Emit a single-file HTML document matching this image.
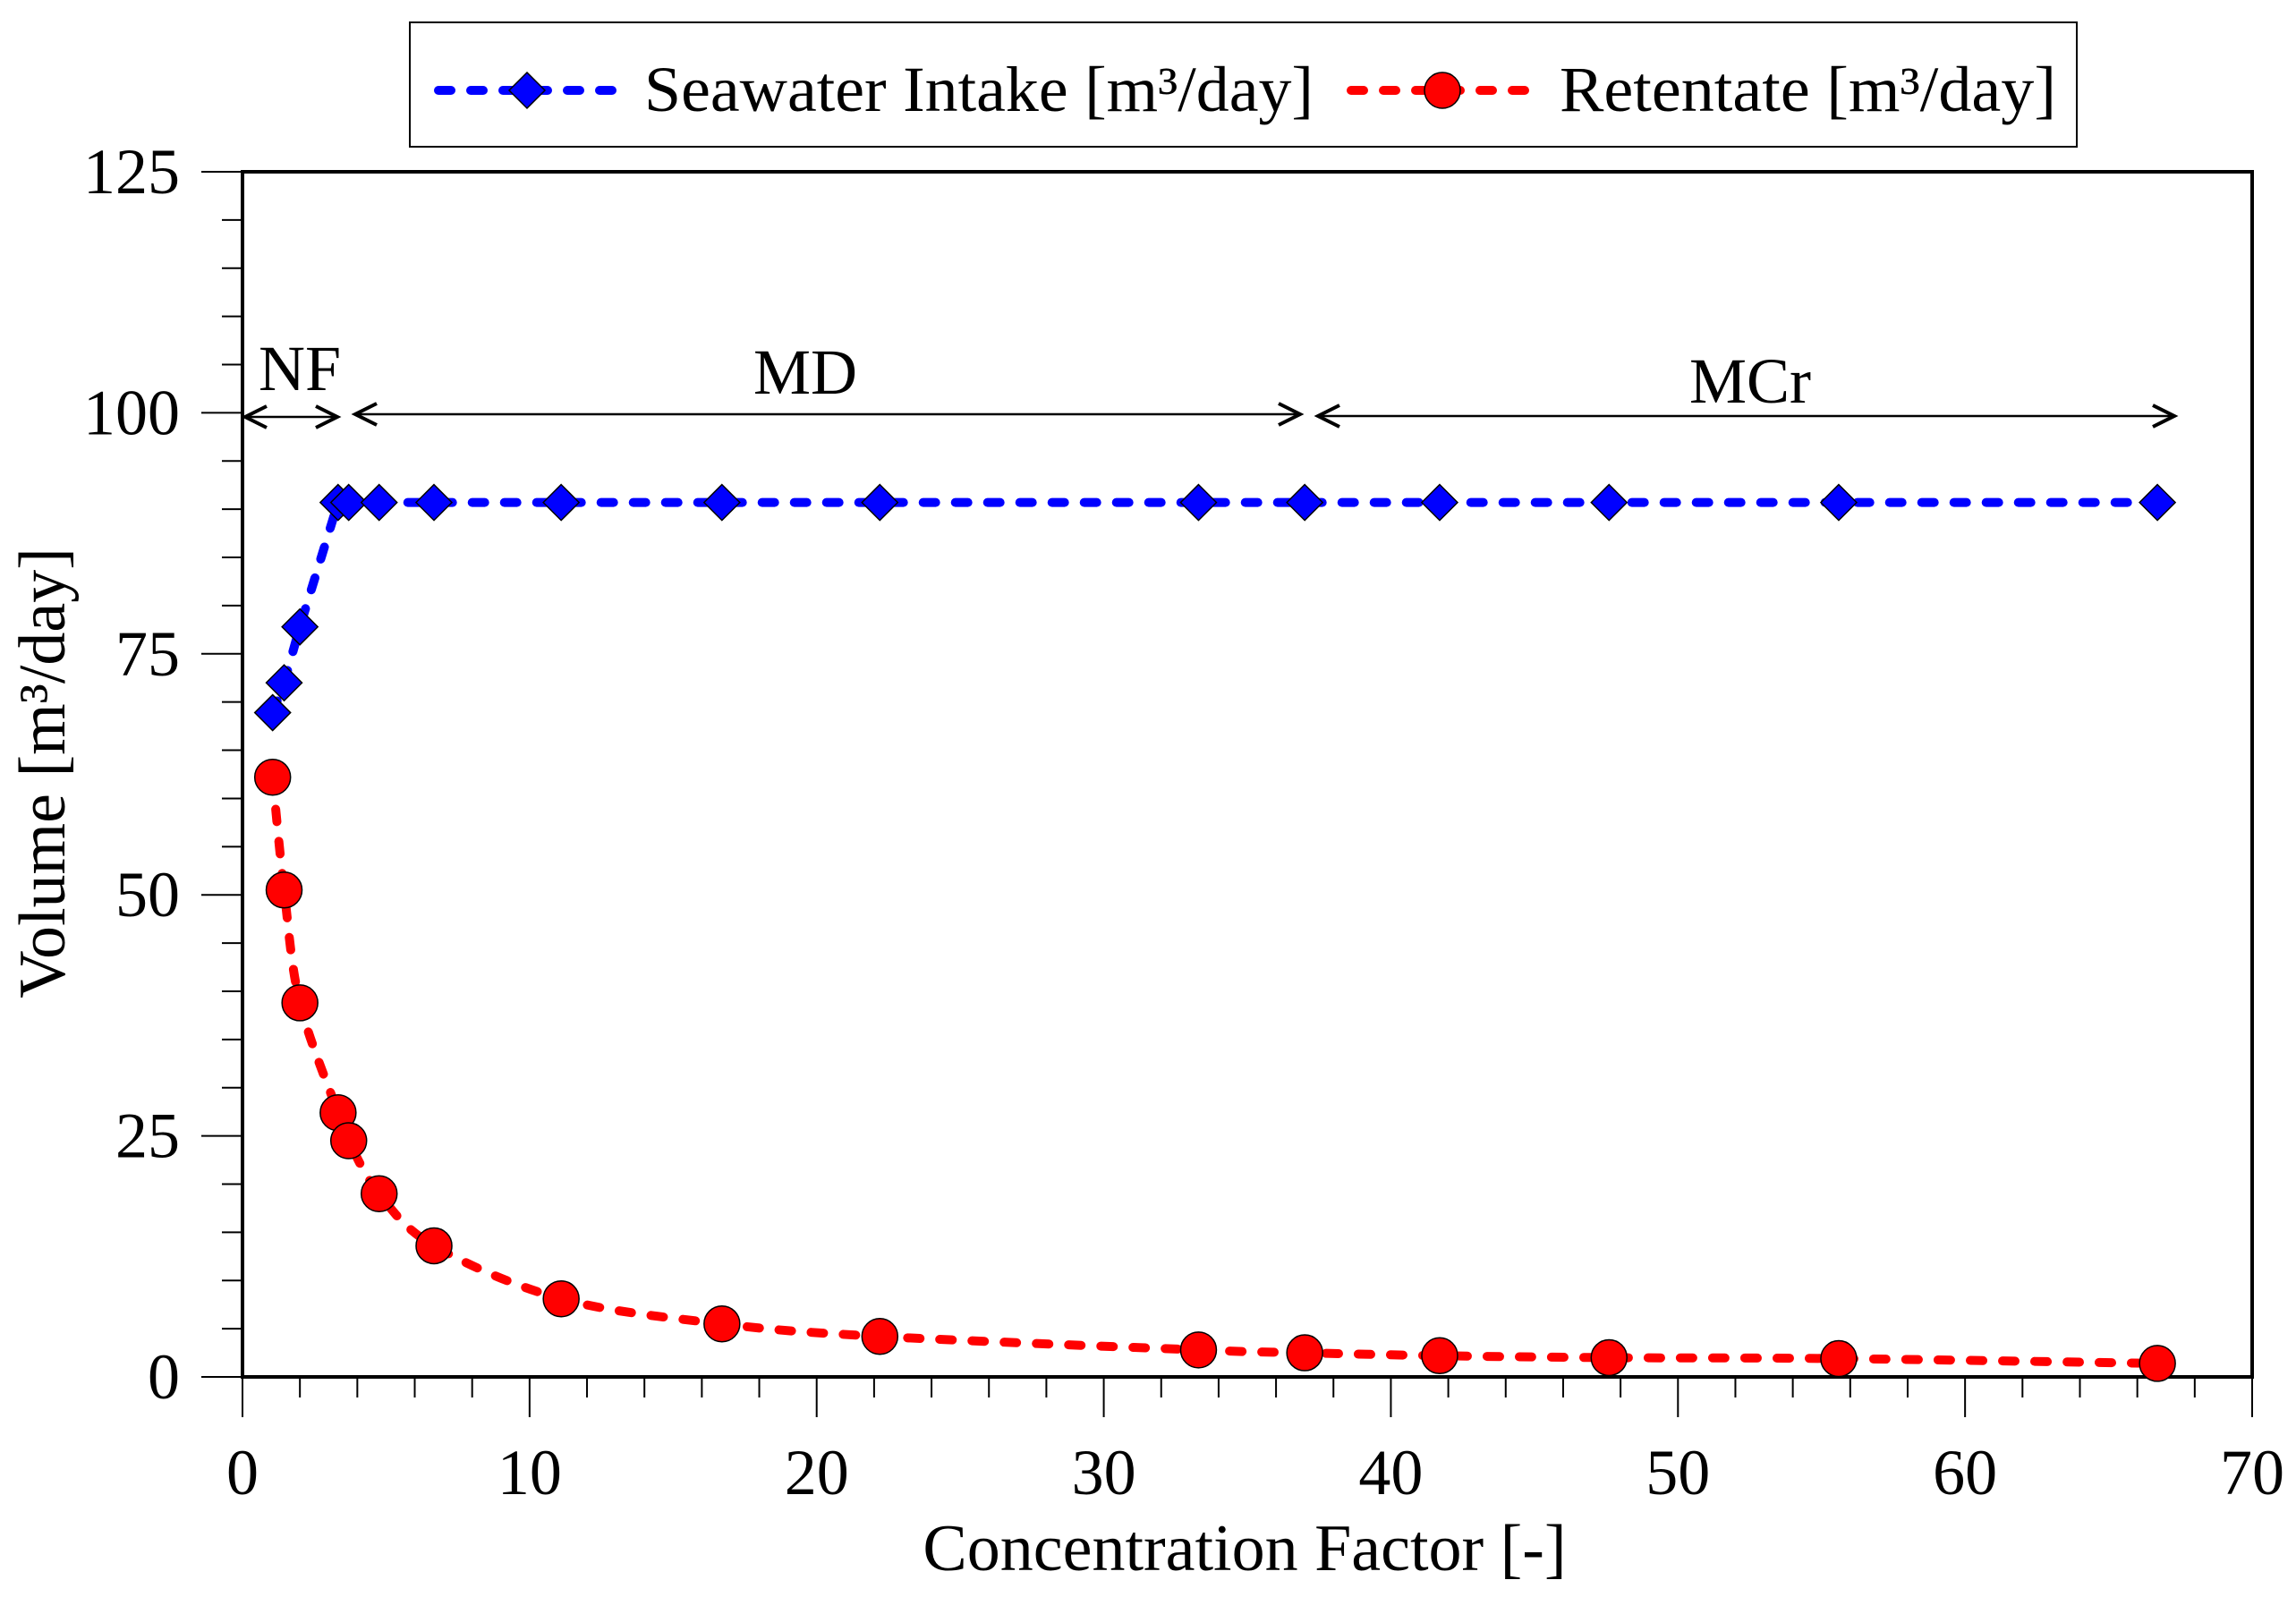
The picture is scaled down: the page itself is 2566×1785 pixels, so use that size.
<!DOCTYPE html>
<html><head><meta charset="utf-8"><style>
html,body{margin:0;padding:0;background:#fff}
svg{display:block}
text{font-family:"Liberation Serif",serif;fill:#000}
</style></head><body>
<svg id="chart" width="2566" height="1785" viewBox="0 0 2566 1785" xmlns="http://www.w3.org/2000/svg">
<g id="axes"></g>
<g id="series"></g>
<g id="annot"></g>
<g id="legend">
<rect x="458" y="25" width="1863" height="139" fill="#fff" stroke="#000" stroke-width="2"/>
<line x1="490" y1="101" x2="704" y2="101" stroke="#0000ff" stroke-width="10" stroke-dasharray="14,22" stroke-linecap="round"/>
<polygon points="589,81 609,101 589,121 569,101" fill="#0000ff" stroke="#000" stroke-width="1.5"/>
<text x="720" y="124" font-size="72" textLength="748" lengthAdjust="spacingAndGlyphs">Seawater Intake [m³/day]</text>
<line x1="1510" y1="101" x2="1718" y2="101" stroke="#ff0000" stroke-width="10" stroke-dasharray="14,22" stroke-linecap="round"/>
<circle cx="1612" cy="101" r="20" fill="#ff0000" stroke="#000" stroke-width="1.5"/>
<text x="1743" y="124" font-size="72" textLength="555" lengthAdjust="spacingAndGlyphs">Retentate [m³/day]</text>
</g>
</svg>
<script>
const cf = [1.05,1.45,2.0,3.33,3.7,4.76,6.67,11.1,16.7,22.2,33.3,37.0,41.7,47.6,55.6,66.7];
const intake = [68.9,72.0,77.8,90.7,90.7,90.7,90.7,90.7,90.7,90.7,90.7,90.7,90.7,90.7,90.7,90.7];
const retentate = [62.2,50.5,38.8,27.4,24.5,19.0,13.6,8.1,5.5,4.2,2.8,2.5,2.2,2.0,1.9,1.4];
const xTicks = [0,10,20,30,40,50,60,70];
const yTicks = [0,25,50,75,100,125];

const NS="http://www.w3.org/2000/svg";
const X0=271,X1=2517,Y0=1539,Y1=192;
const xs=v=>X0+(v/70)*(X1-X0);
const ys=v=>Y0-(v/125)*(Y0-Y1);
function mk(tag,parent,attrs){const e=document.createElementNS(NS,tag);for(const k in attrs)e.setAttribute(k,attrs[k]);parent.appendChild(e);return e;}
const axes=document.getElementById('axes'),series=document.getElementById('series'),annot=document.getElementById('annot');

let f=mk('rect',axes,{x:X0,y:Y1,width:X1-X0,height:Y0-Y1,fill:'none',stroke:'#000','stroke-width':4});


for(let v=0;v<=70;v+=2){const maj=v%10===0;
 const t=mk('line',axes,{x1:xs(v),x2:xs(v),y1:Y0,y2:Y0+(maj?45:23),stroke:'#000','stroke-width':2});
 
 }
for(let v=0;v<=125;v+=5){const maj=v%25===0;
 const t=mk('line',axes,{x1:X0-(maj?46:23),x2:X0,y1:ys(v),y2:ys(v),stroke:'#000','stroke-width':2});
 
 }
xTicks.forEach(v=>{const t=mk('text',axes,{x:xs(v),y:1670,'font-size':72,'text-anchor':'middle'});t.textContent=v;
 
 });
yTicks.forEach(v=>{const t=mk('text',axes,{x:201,y:ys(v)+24,'font-size':72,'text-anchor':'end'});t.textContent=v;
 
 });
let xt=mk('text',axes,{x:1391,y:1755,'font-size':74,'text-anchor':'middle'});xt.textContent='Concentration Factor [-]';


let yt=mk('text',axes,{x:0,y:0,'font-size':74,'text-anchor':'middle',transform:'translate(72,864) rotate(-90)'});yt.textContent='Volume [m³/day]';



// blue line
let bp=cf.map((c,i)=>(i?'L':'M')+xs(c)+','+ys(intake[i])).join(' ');
let bl=mk('path',series,{d:bp,fill:'none',stroke:'#0000ff','stroke-width':10,'stroke-dasharray':'14,22','stroke-linecap':'round'});


// red smooth line (catmull-rom)
const rp=cf.map((c,i)=>[xs(c),ys(retentate[i])]);
let d='M'+rp[0][0]+','+rp[0][1];
for(let i=0;i<rp.length-1;i++){const p0=rp[Math.max(0,i-1)],p1=rp[i],p2=rp[i+1],p3=rp[Math.min(rp.length-1,i+2)];
 d+=' C'+(p1[0]+(p2[0]-p0[0])/6)+','+(p1[1]+(p2[1]-p0[1])/6)+' '+(p2[0]-(p3[0]-p1[0])/6)+','+(p2[1]-(p3[1]-p1[1])/6)+' '+p2[0]+','+p2[1];}
let rl=mk('path',series,{d:d,fill:'none',stroke:'#ff0000','stroke-width':10,'stroke-dasharray':'14,22','stroke-linecap':'round'});


cf.forEach((c,i)=>{const x=xs(c),y=ys(intake[i]);
 const m=mk('polygon',series,{points:`${x},${y-20} ${x+20},${y} ${x},${y+20} ${x-20},${y}`,fill:'#0000ff',stroke:'#000','stroke-width':1.5});
 
 });
cf.forEach((c,i)=>{
 const m=mk('circle',series,{cx:xs(c),cy:ys(retentate[i]),r:20,fill:'#ff0000',stroke:'#000','stroke-width':1.5});
 
 });

// annotations
function arrow(x1,x2,y,name){const g=mk('g',annot,{});
 
 
 mk('line',g,{x1:x1,x2:x2,y1:y,y2:y,stroke:'#000','stroke-width':2.5});
 mk('polyline',g,{points:`${x1+24},${y-12} ${x1},${y} ${x1+24},${y+12}`,fill:'none',stroke:'#000','stroke-width':4});
 mk('polyline',g,{points:`${x2-24},${y-12} ${x2},${y} ${x2-24},${y+12}`,fill:'none',stroke:'#000','stroke-width':4});}
arrow(274,377,466,'nf-arrow');
arrow(397,1453,463,'md-arrow');
arrow(1473,2430,465,'mcr-arrow');
[['NF',335,436,'nf-label'],['MD',900,440,'md-label'],['MCr',1956,450,'mcr-label']].forEach(a=>{
 const t=mk('text',annot,{x:a[1],y:a[2],'font-size':72,'text-anchor':'middle'});t.textContent=a[0];
 
 });
</script>
</body></html>
